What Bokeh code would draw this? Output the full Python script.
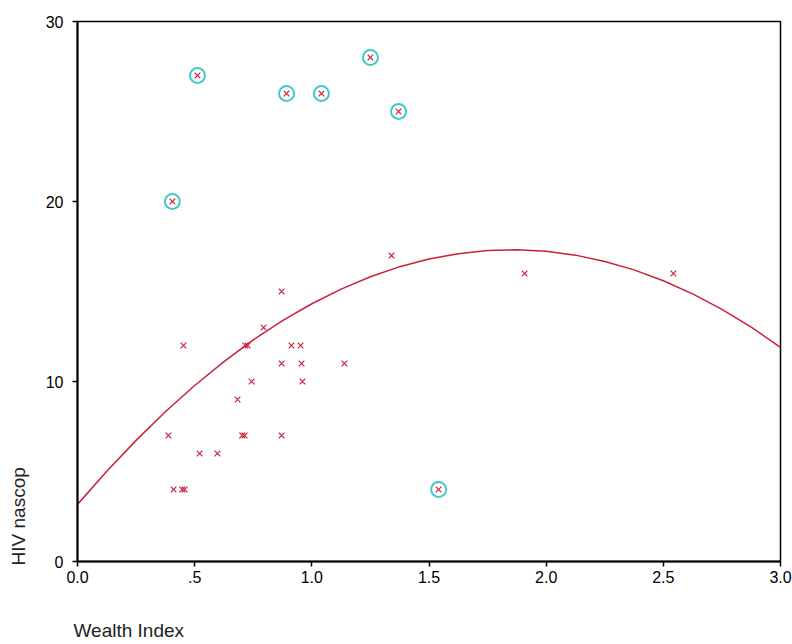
from bokeh.plotting import figure
from bokeh.models import Range1d, FixedTicker, Label, CustomJSTickFormatter
from bokeh.embed import file_html
from bokeh.resources import INLINE
import math

# Regular observations (Wealth Index, HIV nascop)
wealth = [1.908, 2.543, 1.340, 0.871, 0.794, 0.452, 0.716, 0.726, 0.913, 0.952,
          0.871, 0.956, 1.139, 0.743, 0.960, 0.683, 0.388, 0.703, 0.713, 0.871,
          0.521, 0.597, 0.410, 0.447, 0.457]
hiv = [16, 16, 17, 15, 13, 12, 12, 12, 12, 12,
       11, 11, 11, 10, 10, 9, 7, 7, 7, 7,
       6, 6, 4, 4, 4]

# Flagged (circled) observations
out_wealth = [0.512, 0.405, 0.892, 1.041, 1.250, 1.370, 1.541]
out_hiv = [27, 20, 26, 26, 28, 25, 4]

# Quadratic fit curve
curve_x = [0.0, 0.125, 0.25, 0.375, 0.5, 0.625, 0.75, 0.875, 1.0, 1.125, 1.25, 1.375,
           1.5, 1.625, 1.75, 1.875, 2.0, 2.125, 2.25, 2.375, 2.5, 2.625, 2.75, 2.875, 3.0]
curve_y = [3.17, 5.01, 6.73, 8.32, 9.78, 11.10, 12.31, 13.38, 14.32, 15.13, 15.82, 16.38,
           16.81, 17.10, 17.28, 17.32, 17.23, 17.02, 16.67, 16.20, 15.60, 14.87, 14.01, 13.02, 11.90]

x_ticks = [0.0, 0.5, 1.0, 1.5, 2.0, 2.5, 3.0]
y_ticks = [0, 10, 20, 30]

FONT = "Liberation Sans"
RED = "#cc1f3a"
CYAN = "#3cccc8"

p = figure(width=792, height=644, output_backend="svg", toolbar_location=None,
           x_range=Range1d(0, 3), y_range=Range1d(0, 30),
           min_border_left=77, min_border_right=12, min_border_top=21, min_border_bottom=83)
p.grid.visible = False
p.background_fill_color = "white"
p.border_fill_color = "white"
p.outline_line_color = "black"
p.outline_line_width = 1.5

for ax in (p.xaxis[0], p.yaxis[0]):
    ax.axis_line_width = 2
    ax.axis_line_color = "black"
    ax.major_tick_in = 0
    ax.major_tick_out = 5
    ax.major_tick_line_width = 1.5
    ax.minor_tick_line_color = None
    ax.major_label_text_font = FONT
    ax.major_label_text_font_size = "16px"
    ax.major_label_text_color = "black"

p.xaxis.ticker = FixedTicker(ticks=x_ticks)
p.yaxis.ticker = FixedTicker(ticks=y_ticks)
p.xaxis.formatter = CustomJSTickFormatter(code="return tick == 0.5 ? '.5' : tick.toFixed(1);")
p.xaxis.major_label_standoff = 4
p.yaxis.major_label_standoff = 9

p.line(curve_x, curve_y, line_color=RED, line_width=1.5)
p.scatter(out_wealth, out_hiv, marker="circle", size=15, fill_color=None,
          line_color=CYAN, line_width=2)
p.scatter(wealth, hiv, marker="x", size=8, line_color=RED, line_width=1.2)
p.scatter(out_wealth, out_hiv, marker="x", size=8, line_color=RED, line_width=1.2)

# Axis titles placed in the side panels (not clipped to the frame)
p.add_layout(Label(x=-0.017, y=-3.83, text="Wealth Index", text_font=FONT,
                   text_font_size="19px", text_color="#222222",
                   text_align="left", text_baseline="middle"), "below")
p.add_layout(Label(x=-0.252, y=-0.22, text="HIV nascop", text_font=FONT,
                   text_font_size="19px", text_color="#222222", angle=math.pi / 2,
                   text_align="left", text_baseline="middle"), "left")

open("out.html", "w").write(file_html(p, INLINE))
